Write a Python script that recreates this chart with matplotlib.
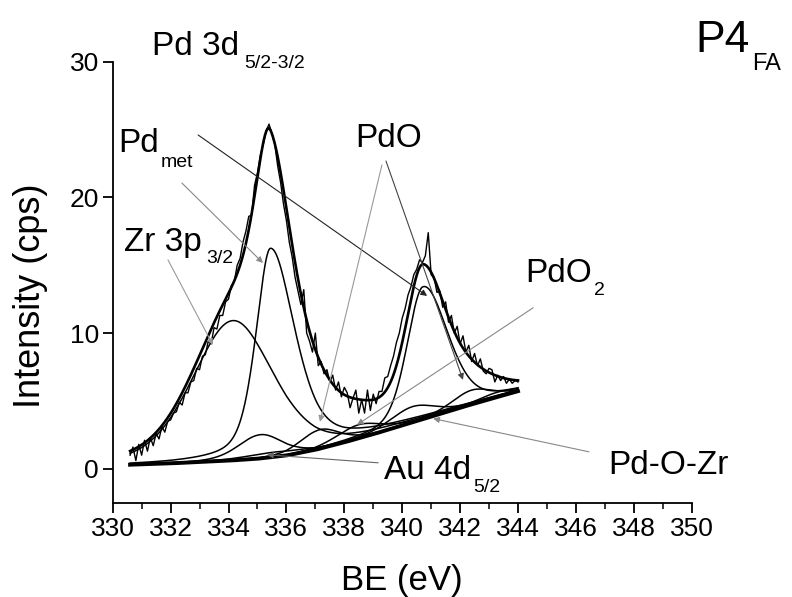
import numpy as np
import matplotlib
matplotlib.use("Agg")
import matplotlib.pyplot as plt

plt.rcParams['font.family'] = ['Liberation Sans', 'DejaVu Sans']

W, H = 792, 597

# Measured spectrum, 0.1 eV steps starting at 330.6 eV
be_start = 330.6
be_step = 0.1
counts = [
    1.0, 1.6, 0.6, 1.8, 1.0, 2.1, 1.3, 2.3, 1.7, 2.6,
    2.2, 3.1, 2.7, 3.5, 3.6, 4.1, 4.2, 4.9, 4.7, 5.6,
    5.6, 6.4, 6.5, 7.4, 7.3, 8.3, 8.4, 9.4, 9.2, 10.4,
    10.3, 11.3, 11.3, 12.3, 12.5, 13.5, 13.8, 15.0, 15.5, 16.7,
    17.5, 18.6, 18.7, 20.9, 21.8, 23.1, 23.9, 24.9, 25.4, 24.7,
    23.9, 22.3, 21.1, 19.5, 18.3, 16.7, 15.6, 14.1, 13.1, 12.1,
    13.2, 10.0, 9.4, 8.6, 10.0, 7.6, 7.9, 7.0, 7.3, 6.4,
    6.9, 5.8, 6.4, 5.3, 6.0, 5.6, 4.5, 5.2, 5.8, 4.1,
    5.1, 4.1, 5.8, 4.3, 5.5, 4.8, 5.7, 5.7, 6.7, 6.8,
    7.6, 8.3, 9.3, 10.0, 11.1, 11.8, 12.8, 13.4, 14.3, 14.7,
    15.4, 15.2, 15.7, 17.4, 14.3, 14.1, 13.0, 13.1, 11.9, 12.3,
    10.8, 11.3, 10.0, 10.5, 9.2, 9.8, 8.6, 9.1, 7.9, 8.5,
    7.6, 8.1, 7.2, 7.0, 7.4, 7.3, 6.4, 6.9, 6.5, 6.8,
    6.3, 6.6, 6.3, 6.5, 6.4,
]

# Background knots (BE, intensity)
bg_be = [330.6, 332.0, 333.0, 334.0, 335.0, 336.0, 337.0, 338.0,
         339.0, 340.0, 341.0, 342.0, 343.0, 344.0]
bg_int = [0.30, 0.40, 0.50, 0.60, 0.74, 0.98, 1.40, 1.95,
          2.55, 3.20, 3.85, 4.50, 5.12, 5.72]

# Fitted components: centre (eV), height (cps), FWHM below / above centre, Lorentzian share
comp_names = ['Zr 3p3/2', 'Pd met 3d5/2', 'Pd met 3d3/2', 'Pd-O-Zr 3d5/2',
              'Pd-O-Zr 3d3/2', 'PdO 3d5/2', 'PdO 3d3/2', 'PdO2 3d5/2',
              'PdO2 3d3/2', 'Au 4d5/2']
comp_center = [334.15, 335.45, 340.72, 335.10, 340.36, 337.15, 342.40, 338.50, 343.30, 335.60]
comp_height = [10.3, 15.4, 9.75, 1.75, 1.15, 1.40, 1.05, 1.00, 0.35, 0.35]
comp_fwhm_lo = [3.3, 1.2, 1.3, 1.8, 1.8, 1.6, 1.6, 1.8, 1.6, 2.5]
comp_fwhm_hi = [3.3, 2.0, 2.0, 1.8, 1.8, 1.6, 1.6, 1.8, 1.6, 2.5]
comp_lor = [0.3, 0.5, 0.3, 0.3, 0.3, 0.3, 0.3, 0.3, 0.3, 0.3]


def gl_peak(x, c, h, w_lo, w_hi, eta):
    hw = np.where(x < c, w_lo, w_hi) / 2.0
    u = (x - c) / hw
    return h * ((1 - eta) * np.exp(-np.log(2) * u ** 2) + eta / (1 + u ** 2))


be = be_start + be_step * np.arange(len(counts))
xf = np.linspace(bg_be[0], bg_be[-1], 700)
bg = np.interp(xf, bg_be, bg_int)
peaks = [gl_peak(xf, c, h, wl, wh, e) for c, h, wl, wh, e in
         zip(comp_center, comp_height, comp_fwhm_lo, comp_fwhm_hi, comp_lor)]
envelope = bg + np.sum(peaks, axis=0)

fig = plt.figure(figsize=(W / 100, H / 100), dpi=100)
ax = fig.add_axes([112.7 / W, 1 - 502.7 / H, 579.0 / W, 441.0 / H])

for p in peaks:
    ax.plot(xf, bg + p, color='black', lw=1.1, zorder=3)
ax.plot(be, counts, color='black', lw=1.0, zorder=4)
ax.plot(xf, envelope, color='black', lw=1.9, zorder=5)
ax.plot(xf, bg, color='black', lw=2.8, zorder=6)

ax.set_xlim(330, 350)
ax.set_ylim(-2.5, 30)
ax.set_xticks(np.arange(330, 351, 2))
ax.set_xticks(np.arange(331, 350, 2), minor=True)
ax.set_yticks([0, 10, 20, 30])
for s in ['top', 'right']:
    ax.spines[s].set_visible(False)
for s in ['left', 'bottom']:
    ax.spines[s].set_linewidth(1.3)
ax.tick_params(axis='both', which='major', direction='out', length=7, width=1.3,
               labelsize=19, pad=3)
ax.tick_params(axis='x', which='minor', direction='out', length=4, width=1.1)

fig.text(402 / W, 1 - 590 / H, 'BE (eV)', fontsize=25, ha='center', va='baseline')
fig.text(48 / W, 1 - 296 / H, 'Intensity (cps)', fontsize=26, ha='right',
         va='center', rotation=90)


def label(px, py, s, size):
    fig.text(px / W, 1 - py / H, s, fontsize=size, ha='left', va='baseline')


label(152, 55, 'Pd 3d', 24)
label(244, 68, '5/2-3/2', 14)
label(695, 52, 'P4', 32)
label(752, 70, 'FA', 17)
label(118, 152, 'Pd', 24)
label(161, 167, 'met', 14)
label(124, 251, 'Zr 3p', 24)
label(206, 263, '3/2', 14)
label(355, 147, 'PdO', 24)
label(525, 282, 'PdO', 24)
label(594, 295, '2', 14)
label(608, 474, 'Pd-O-Zr', 24)
label(384, 479, 'Au 4d', 24)
label(473, 492, '5/2', 14)

# Leader lines: (start BE, start I, end BE, end I, colour)
leaders = [
    (332.95, 24.6, 340.86, 12.74, '#222222'),
    (332.39, 21.06, 335.19, 15.17, '#888888'),
    (339.30, 22.39, 337.16, 3.46, '#999999'),
    (339.44, 22.68, 342.10, 6.55, '#444444'),
    (331.91, 15.39, 333.46, 9.13, '#999999'),
    (344.52, 11.86, 338.44, 3.24, '#888888'),
    (346.45, 1.25, 341.07, 3.70, '#888888'),
    (339.17, 0.44, 335.33, 1.03, '#666666'),
]
for x0, y0, x1, y1, col in leaders:
    ax.annotate('', xy=(x1, y1), xytext=(x0, y0),
                arrowprops=dict(arrowstyle='-|>', color=col, lw=0.8,
                                mutation_scale=9, shrinkA=0, shrinkB=0),
                annotation_clip=False, zorder=7)

fig.savefig('out.png', dpi=100)
